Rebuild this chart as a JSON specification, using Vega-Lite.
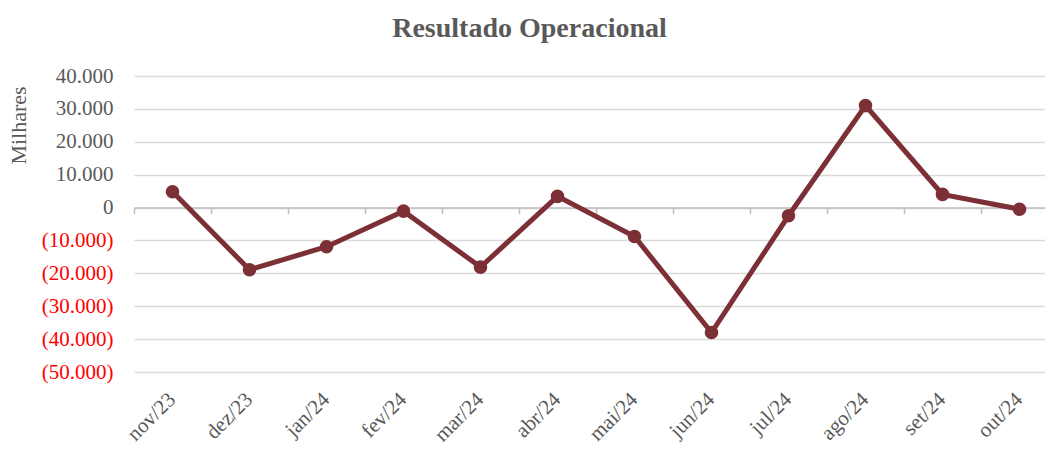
{
  "$schema": "https://vega.github.io/schema/vega-lite/v6.json",
  "autosize": {"type": "none"},
  "padding": {"left": 134, "top": 76, "right": 0, "bottom": 78},
  "width": 911,
  "height": 296,
  "background": "white",
  "config": {"view": {"stroke": null}},
  "title": {
    "text": "Resultado Operacional",
    "font": "Liberation Serif",
    "fontSize": 28,
    "fontWeight": "bold",
    "color": "#595959",
    "anchor": "middle",
    "dx": -60,
    "offset": 22
  },
  "data": {
    "values": [
      {"mes": "nov/23", "valor": 4800},
      {"mes": "dez/23", "valor": -18900},
      {"mes": "jan/24", "valor": -11900},
      {"mes": "fev/24", "valor": -1100},
      {"mes": "mar/24", "valor": -18100},
      {"mes": "abr/24", "valor": 3400},
      {"mes": "mai/24", "valor": -8800},
      {"mes": "jun/24", "valor": -38000},
      {"mes": "jul/24", "valor": -2500},
      {"mes": "ago/24", "valor": 31000},
      {"mes": "set/24", "valor": 4000},
      {"mes": "out/24", "valor": -500}
    ]
  },
  "encoding": {
    "y": {
      "field": "valor", "type": "quantitative",
      "scale": {"domain": [-50000, 40000], "nice": false, "zero": false},
      "axis": {
        "values": [-50000, -40000, -30000, -20000, -10000, 0, 10000, 20000, 30000, 40000],
        "domain": false, "ticks": false, "grid": true, "gridColor": "#d9d9d9", "gridWidth": 1.5,
        "labelOverlap": false, "labelBound": false,
        "labelFont": "Liberation Serif", "labelFontSize": 21, "labelPadding": 21,
        "labelColor": {"expr": "datum.value < 0 ? '#ff0000' : '#595959'"},
        "labelExpr": "datum.value < 0 ? '(' + replace(format(-datum.value, ','), ',', '.') + ')' : replace(format(datum.value, ','), ',', '.') + '\u2004'",
        "title": "Milhares", "titleFont": "Liberation Serif", "titleFontSize": 22,
        "titleFontWeight": "normal", "titleColor": "#595959", "titleAngle": -90,
        "titleX": -109, "titleY": 49, "titleAlign": "center", "titleBaseline": "alphabetic"
      }
    }
  },
  "layer": [
    {
      "mark": {"type": "line", "color": "#7c3035", "strokeWidth": 5, "clip": false},
      "encoding": {
        "x": {
          "field": "mes", "type": "ordinal", "sort": null,
          "scale": {"type": "band", "paddingInner": 0, "paddingOuter": 0, "range": [0, 924]},
          "axis": {
            "orient": "bottom", "title": null, "domain": false, "ticks": false, "grid": false,
            "labelAngle": -45, "labelAlign": "right", "labelBaseline": "middle", "labelOverlap": false,
            "labelPadding": 24, "labelFont": "Liberation Serif", "labelFontSize": 21,
            "labelColor": "#595959"
          }
        }
      }
    },
    {
      "mark": {"type": "point", "filled": true, "color": "#7c3035", "size": 185, "opacity": 1, "clip": false},
      "encoding": {
        "x": {
          "field": "mes", "type": "ordinal", "sort": null,
          "axis": {
            "orient": "top", "title": null, "labels": false, "grid": false,
            "offset": -131.56, "domain": true, "domainColor": "#bfbfbf", "domainWidth": 1.5,
            "ticks": true, "tickBand": "extent", "tickSize": -6, "tickColor": "#bfbfbf", "tickWidth": 1.5
          }
        }
      }
    }
  ],
  "resolve": {"axis": {"x": "independent"}}
}
